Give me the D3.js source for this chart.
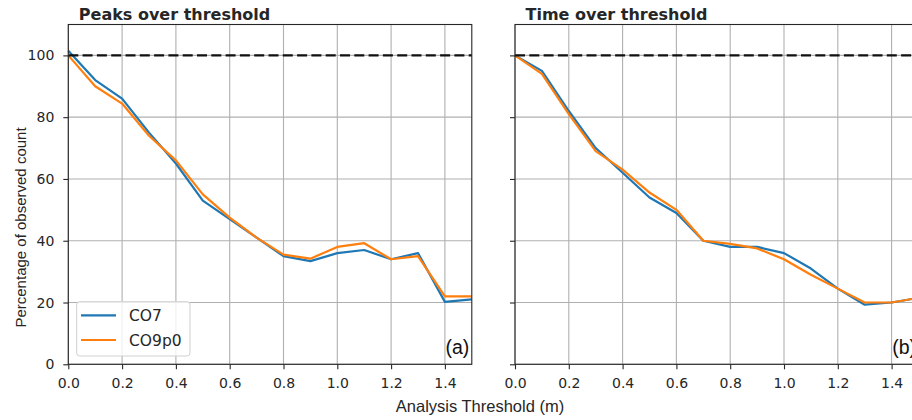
<!DOCTYPE html>
<html>
<head>
<meta charset="utf-8">
<script src="https://cdn.jsdelivr.net/npm/d3@7"></script>
<style>
  body { margin: 0; background: #fff; }
  svg { display: block; overflow: hidden; }
</style>
</head>
<body>
<svg id="chart"></svg>
<script>
const width = 912;
const height = 420;

// data
const thresholds = [0.0, 0.1, 0.2, 0.3, 0.4, 0.5, 0.6, 0.7, 0.8, 0.9, 1.0, 1.1, 1.2, 1.3, 1.4, 1.5];
const peaksCO7   = [101.5, 92, 86, 75, 65, 53, 47, 41, 35, 33.4, 36, 37, 34, 36, 20.2, 21];
const peaksCO9p0 = [100, 90, 84.4, 74, 66, 55, 47.5, 41, 35.5, 34.2, 38, 39.2, 34, 35, 22, 22];
const timeCO7    = [100, 95, 82, 70, 62, 54, 49, 40, 38, 38, 36, 31, 24.5, 19.3, 20, 21.5];
const timeCO9p0  = [100, 94, 81, 69, 63, 55.6, 50, 40, 39, 37.5, 34, 29, 24.5, 20, 20, 21.5];
const seriesNames = ['CO7', 'CO9p0'];
const colors = ['#1f77b4', '#ff7f0e'];
const xTicks = [0, 0.2, 0.4, 0.6, 0.8, 1.0, 1.2, 1.4];
const yTicks = [0, 20, 40, 60, 80, 100];
const refLevel = 100;

const panels = [
  {title: 'Peaks over threshold', tag: '(a)', left: 68.3, series: [peaksCO7, peaksCO9p0], yLabels: true},
  {title: 'Time over threshold',  tag: '(b)', left: 515,  series: [timeCO7, timeCO9p0], yLabels: false}
];
const panelW = 403.5;
const plotTop = 24.5;
const plotBottom = 364.3;

const tickFont = '"DejaVu Sans", sans-serif';
const labelFont = '"Liberation Sans", Arial, sans-serif';
const ink = '#262626';

const svg = d3.select('#chart').attr('width', width).attr('height', height);

const y = d3.scaleLinear().domain([0, 110]).range([plotBottom, plotTop]);

panels.forEach(p => {
  const x = d3.scaleLinear().domain([0, 1.5]).range([p.left, p.left + panelW]);
  const g = svg.append('g');

  // grid
  g.append('g').selectAll('line').data(xTicks).enter().append('line')
    .attr('x1', d => x(d)).attr('x2', d => x(d))
    .attr('y1', plotTop).attr('y2', plotBottom)
    .attr('stroke', '#b0b0b0').attr('stroke-width', 1.1);
  g.append('g').selectAll('line').data(yTicks).enter().append('line')
    .attr('x1', p.left).attr('x2', p.left + panelW)
    .attr('y1', d => y(d)).attr('y2', d => y(d))
    .attr('stroke', '#b0b0b0').attr('stroke-width', 1.1);

  // lines
  const line = d3.line().x((d, i) => x(thresholds[i])).y(d => y(d));
  p.series.forEach((s, i) => {
    g.append('path').datum(s)
      .attr('d', line)
      .attr('fill', 'none')
      .attr('stroke', colors[i])
      .attr('stroke-width', 2.2)
      .attr('stroke-linejoin', 'round');
  });

  // reference line
  g.append('line')
    .attr('x1', p.left).attr('x2', p.left + panelW)
    .attr('y1', y(refLevel)).attr('y2', y(refLevel))
    .attr('stroke', '#111').attr('stroke-width', 2.4)
    .attr('stroke-dasharray', '10,4.3');

  // axes
  const xAxis = g.append('g').attr('transform', `translate(0,${plotBottom})`)
    .call(d3.axisBottom(x).tickValues(xTicks).tickFormat(d3.format('.1f')).tickSize(5).tickPadding(9).tickSizeOuter(0));
  const yAxis = g.append('g').attr('transform', `translate(${p.left},0)`)
    .call(d3.axisLeft(y).tickValues(yTicks).tickSize(5).tickPadding(9).tickSizeOuter(0));
  if (!p.yLabels) yAxis.selectAll('text').remove();
  [xAxis, yAxis].forEach(a => {
    a.select('.domain').remove();
    a.selectAll('line').attr('stroke', ink).attr('stroke-width', 1.1);
    a.selectAll('text').attr('fill', ink).style('font-family', tickFont).style('font-size', '14px');
  });

  // frame
  g.append('rect')
    .attr('x', p.left).attr('y', plotTop)
    .attr('width', panelW).attr('height', plotBottom - plotTop)
    .attr('fill', 'none').attr('stroke', ink).attr('stroke-width', 1.1);

  // title
  g.append('text')
    .attr('x', p.left + 10.5).attr('y', 20)
    .style('font-family', tickFont).style('font-size', '16px').style('font-weight', 'bold')
    .attr('fill', ink)
    .text(p.title);

  // panel tag
  g.append('text')
    .attr('x', p.left + 401).attr('y', 354)
    .attr('text-anchor', 'end')
    .style('font-family', labelFont).style('font-size', '19.5px')
    .attr('fill', '#111')
    .text(p.tag);
});

// legend on the first panel
const legend = svg.append('g');
legend.append('rect')
  .attr('x', 76.7).attr('y', 301.7).attr('width', 113.3).attr('height', 54.3)
  .attr('rx', 3).attr('fill', '#fff').attr('fill-opacity', 0.8)
  .attr('stroke', '#d0d0d0').attr('stroke-width', 1);
seriesNames.forEach((name, i) => {
  const ly = 315.3 + i * 24.7;
  legend.append('line')
    .attr('x1', 81).attr('x2', 116).attr('y1', ly).attr('y2', ly)
    .attr('stroke', colors[i]).attr('stroke-width', 2.2);
  legend.append('text')
    .attr('x', 129).attr('y', ly + 6)
    .style('font-family', tickFont).style('font-size', '15.5px')
    .attr('fill', ink)
    .text(name);
});

// shared axis labels
svg.append('text')
  .attr('x', 480).attr('y', 411.5)
  .attr('text-anchor', 'middle')
  .style('font-family', labelFont).style('font-size', '16.5px')
  .attr('fill', ink)
  .text('Analysis Threshold (m)');

svg.append('text')
  .attr('transform', 'translate(26,227.5) rotate(-90)')
  .attr('text-anchor', 'middle')
  .style('font-family', labelFont).style('font-size', '15px')
  .attr('fill', ink)
  .text('Percentage of observed count');
</script>
</body>
</html>
